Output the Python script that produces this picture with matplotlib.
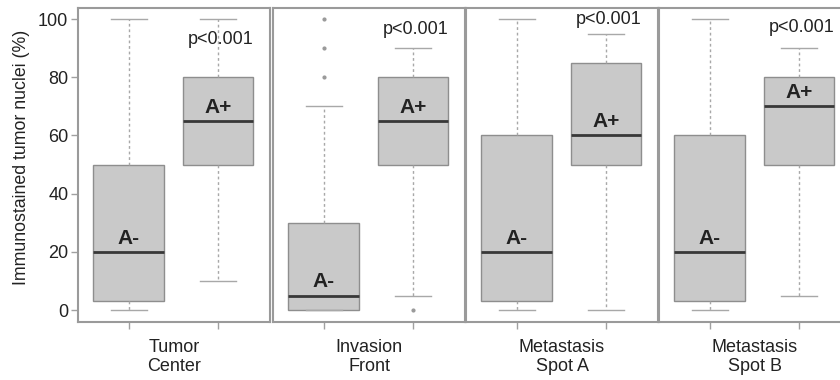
import numpy as np
import matplotlib
matplotlib.use('Agg')
import matplotlib.pyplot as plt

plt.rcParams['font.family'] = ['Liberation Sans', 'DejaVu Sans']

# DATOS
paneles = ['Tumor\nCenter', 'Invasion\nFront', 'Metastasis\nSpot A', 'Metastasis\nSpot B']
grupos = ['A-', 'A+']
# (bigote inf, Q1, mediana, Q3, bigote sup)
a_menos = [(0, 3, 20, 50, 100), (0, 0, 5, 30, 70), (0, 3, 20, 60, 100), (0, 3, 20, 60, 100)]
a_mas = [(10, 50, 65, 80, 100), (5, 50, 65, 80, 90), (0, 50, 60, 85, 95), (5, 50, 70, 80, 90)]
atipicos_menos = [[], [80, 90, 100], [], []]
atipicos_mas = [[], [0], [], []]
p_texto = ['p<0.001', 'p<0.001', 'p<0.001', 'p<0.001']
p_altura = [93, 96.5, 99.7, 97]

fig = plt.figure(figsize=(8.4, 3.8), dpi=100)
W, H = 840, 380
izq = [78, 273, 466, 659]
ancho = 192
arriba, abajo = 8, 322

gris_caja = '#c9c9c9'
gris_borde = '#8e8e8e'
gris_marco = '#9a9a9a'

for i in range(4):
    ax = fig.add_axes([izq[i] / W, (H - abajo) / H, ancho / W, (abajo - arriba) / H])
    stats = []
    for d, out, lab in [(a_menos[i], atipicos_menos[i], grupos[0]),
                        (a_mas[i], atipicos_mas[i], grupos[1])]:
        stats.append(dict(whislo=d[0], q1=d[1], med=d[2], q3=d[3], whishi=d[4],
                          fliers=out, label=lab))
    ax.bxp(stats, positions=[1, 2], widths=0.79, patch_artist=True,
           boxprops=dict(facecolor=gris_caja, edgecolor=gris_borde, linewidth=1),
           medianprops=dict(color='#383838', linewidth=2),
           whiskerprops=dict(color='#a8a8a8', linestyle=(0, (2, 2)), linewidth=1),
           capprops=dict(color='#a8a8a8', linewidth=1),
           flierprops=dict(marker='o', markersize=2, markerfacecolor='#9a9a9a',
                           markeredgecolor='#9a9a9a'),
           capwidths=0.4)
    ax.set_xlim(0.433, 2.58)
    ax.set_ylim(-4.1, 103.8)
    for s in ax.spines.values():
        s.set_color(gris_marco)
        s.set_linewidth(1.5)
    ax.set_xticks([1, 2])
    ax.set_xticklabels(['', ''])
    ax.tick_params(axis='x', length=5, color='#a0a0a0', width=1)
    if i == 0:
        ax.set_yticks([0, 20, 40, 60, 80, 100])
        ax.tick_params(axis='y', length=5, color='#a0a0a0', width=1, pad=2,
                       labelsize=13, labelcolor='#222222')
    else:
        ax.set_yticks([])
    # etiquetas A- / A+
    ax.text(1, a_menos[i][2] + 1.5, grupos[0], ha='center', va='bottom',
            fontsize=15, fontweight='bold', color='#222222')
    ax.text(2, a_mas[i][2] + 1.5, grupos[1], ha='center', va='bottom',
            fontsize=15, fontweight='bold', color='#222222')
    ax.text(2.03, p_altura[i], p_texto[i], ha='center', va='center',
            fontsize=13, color='#222222')
    ax.text(0.5, -0.055, paneles[i], transform=ax.transAxes, ha='center', va='top',
            fontsize=13, color='#222222', linespacing=1.15)

fig.text(22 / W, 1 - 157 / H, 'Immunostained tumor nuclei (%)', rotation=90,
         ha='center', va='center', fontsize=12.8, color='#222222')

fig.savefig('out.png', dpi=100)
